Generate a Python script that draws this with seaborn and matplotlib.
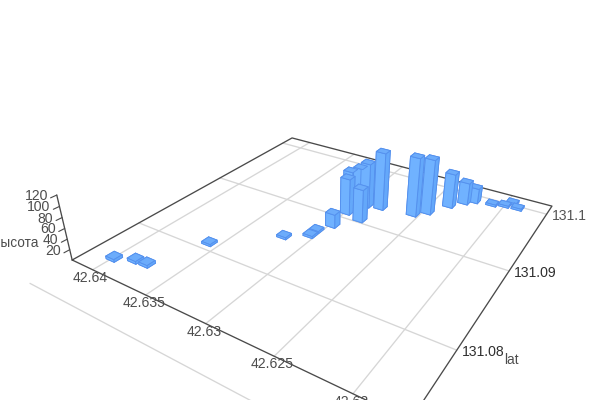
import numpy as np
import matplotlib
matplotlib.use('Agg')
import matplotlib.pyplot as plt
import seaborn as sns
from mpl_toolkits.mplot3d import proj3d

# bar data
lon = [42.6399, 42.6385, 42.6375, 42.6358, 42.6319, 42.6304, 42.6304, 42.6298,
       42.6299, 42.6285, 42.6303, 42.6297, 42.6292, 42.6281, 42.6255, 42.6247,
       42.6237, 42.6229, 42.6223, 42.6209, 42.6200, 42.6196, 42.6190]
lat = [131.0754, 131.0761, 131.0762, 131.0809, 131.0849, 131.0862, 131.0871, 131.0885,
       131.0910, 131.0905, 131.0922, 131.0927, 131.0930, 131.0933, 131.0938, 131.0948,
       131.0969, 131.0982, 131.0989, 131.0992, 131.0996, 131.1004, 131.0997]
height = [5, 5, 5, 4, 4, 4, 4, 27,
          73, 66, 74, 80, 90, 116, 118, 111,
          70, 45, 31, 4, 4, 4, 4]

lon_ticks = [42.64, 42.635, 42.63, 42.625, 42.62]
lat_ticks = [131.07, 131.08, 131.09, 131.1]
z_ticks = [20, 40, 60, 80, 100, 120]
lon_labels = ['42.64', '42.635', '42.63', '42.625', '42.62']
lat_labels = ['131.08', '131.09', '131.1']

lon_range = (42.6421, 42.6168)
lat_range = (131.0735, 131.1017)
z_range = (0, 120)
bar_size = 0.0008

sns.set_theme(style='white')
plt.rcParams['font.family'] = ['Liberation Sans', 'DejaVu Sans']

fig = plt.figure(figsize=(6, 4), dpi=100)
ax = fig.add_axes([0, 0, 1, 1], projection='3d')
ax.computed_zorder = False
ax.set_axis_off()

# bars, faces are bottom top -y +y -x +x
face_colors = ['#6cacfb', '#6cacfb', '#70b2ff', '#70b2ff', '#64a8fa', '#70b2ff']
ax.bar3d(np.array(lon) - bar_size / 2, np.array(lat) - bar_size / 2, np.zeros(len(lon)),
         bar_size, bar_size, height, color=face_colors * len(lon), edgecolor='#5591ee',
         linewidth=0.65, shade=False, zorder=3)

# floor grid
for t in lon_ticks:
    ax.plot([t, t], lat_range, [0, 0], color='#d6d6d6', lw=0.95, zorder=1, clip_on=False)
for t in lat_ticks:
    ax.plot(lon_range, [t, t], [0, 0], color='#d6d6d6', lw=0.95, zorder=1, clip_on=False)

# box edges
x0, x1 = lon_range
y0, y1 = lat_range
ax.plot([x0, x1, x1, x0, x0], [y0, y0, y1, y1, y0], [0, 0, 0, 0, 0], color='#4a4a4a', lw=0.95, zorder=2, clip_on=False)
ax.plot([x0, x0], [y0, y0], z_range, color='#4a4a4a', lw=0.95, zorder=2, clip_on=False)
for t in z_ticks:
    ax.plot([x0, x0], [y0, y0 - 0.0005], [t, t], color='#4a4a4a', lw=0.8, zorder=2, clip_on=False)

ax.set_xlim(*lon_range)
ax.set_ylim(*lat_range)
ax.set_zlim(*z_range)

# camera
elev, azim, roll, focal, ratio, bz, side, cx, cy = 28.6282, -57.6829, -0.3897, 0.2296, 1.0064, 0.1969, 492.1139, 324.3752, 207.8160
ax.view_init(elev=elev, azim=azim, roll=roll)
ax.set_proj_type('persp', focal_length=focal)
ax.set_box_aspect((1, ratio, bz))
ax.set_position([(cx - side / 2) / 600, (400 - cy - side / 2) / 400, side / 600, side / 400])
ax.apply_aspect()
M = ax.get_proj()


def put_text(x, y, z, s, dx, dy, color='#4d4d4d', ha='center', size=10.1):
    xs, ys, _ = proj3d.proj_transform(x, y, z, M)
    px, py = ax.transData.transform((xs, ys))
    fig.text((px + dx) / 600, (py - dy) / 400, s, color=color, ha=ha, va='center', fontsize=size)


for t, s in zip(lon_ticks, lon_labels):
    put_text(t, y0, 0, s, -2, 8)
for t, s, c in zip(lat_ticks[1:], lat_labels, ['#2f2f2f', '#2f2f2f', '#555555']):
    put_text(x1, t, 0, s, 5, 2, color=c, ha='left')
for t in z_ticks:
    put_text(x0, y0, t, str(t), -9, 1, ha='right')

fig.text(39 / 600, 1 - 243 / 400, 'высота', color='#4d4d4d', ha='right', va='center', fontsize=9.8)
fig.text(511 / 600, 1 - 360 / 400, 'lat', color='#4d4d4d', ha='center', va='center', fontsize=9.8)

fig.savefig('out.png', dpi=100)
